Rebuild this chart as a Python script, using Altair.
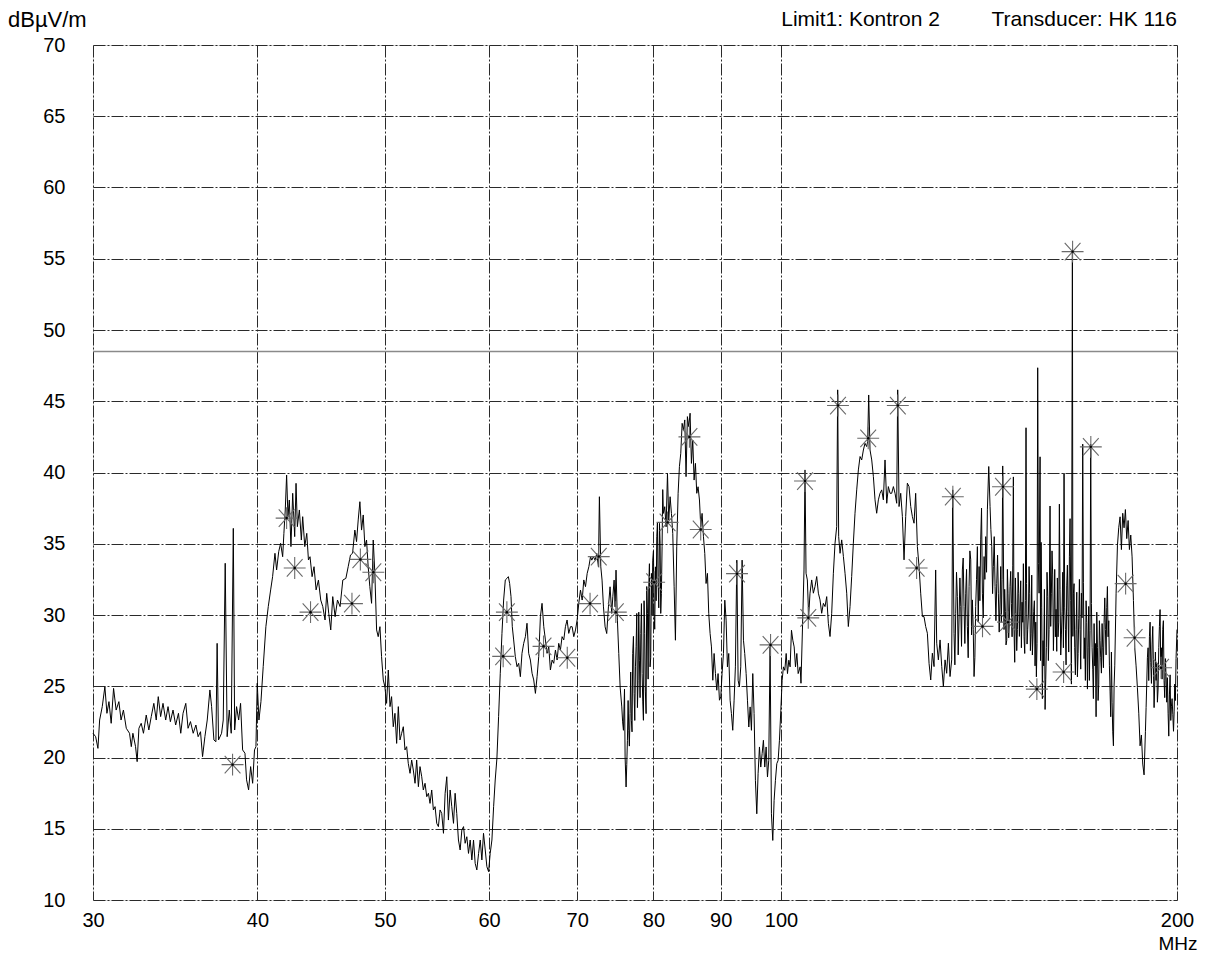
import altair as alt
import pandas as pd

# ---- trace (frequency MHz, level dBuV/m) ----
trace_30_46 = [
(30.00,21.70),(30.14,21.46),(30.26,20.64),(30.35,22.63),(30.49,23.57),(30.63,24.97),(30.74,23.10),(30.85,23.92),(30.97,22.40),(31.10,24.85),
(31.24,23.33),(31.39,23.92),(31.51,22.63),(31.64,23.33),(31.80,22.05),(31.98,21.70),(32.08,20.76),(32.17,21.70),(32.32,20.76),(32.41,19.71),
(32.51,22.05),(32.64,22.40),(32.77,21.70),(32.93,22.98),(33.08,21.93),(33.22,22.87),(33.37,23.80),(33.51,22.63),(33.63,24.27),(33.77,22.87),
(33.91,23.80),(34.07,22.63),(34.21,23.57),(34.35,22.51),(34.51,23.33),(34.67,22.28),(34.84,23.10),(34.98,21.70),(35.12,23.10),(35.29,23.80),
(35.43,22.05),(35.58,22.52),(35.75,21.70),(35.92,22.28),(36.06,21.46),(36.21,21.81),(36.34,20.06),(36.49,21.46),(36.64,22.63),(36.81,24.74),
(36.92,23.57),(37.07,21.23),(37.20,21.11),(37.28,28.01),(37.37,21.23),(37.57,21.70),(37.68,22.63),(37.81,33.63),(37.94,21.46),(38.08,23.33),
(38.21,21.70),(38.35,36.08),(38.44,21.93),(38.57,23.57),(38.71,22.63),(38.84,23.80),(38.98,20.53),(39.14,20.30),(39.25,18.43),(39.39,17.73),
(39.53,19.36),(39.67,18.19),(39.80,20.53),(39.90,20.76),(39.99,25.21),(40.11,22.63),(40.25,23.92),(40.41,26.38),(40.60,29.18),(40.77,30.59),
(40.94,31.76),(41.08,32.69),(41.25,34.33),(41.37,33.16),(41.52,34.44),(41.66,35.03),(41.81,34.09),(41.90,35.73),(42.00,37.37),(42.10,39.82),
(42.20,36.90),(42.30,38.07),(42.42,34.80),(42.55,38.54),(42.70,35.50),(42.80,39.24),(42.90,36.20),(43.05,37.37),(43.20,35.26),(43.30,36.90),
(43.46,34.80),(43.61,35.73),(43.74,33.86),(43.86,34.09),(44.02,32.69),(44.17,33.39),(44.33,31.76),(44.51,32.45),(44.69,31.05),(44.85,30.59),
(45.03,29.65),(45.16,31.52),(45.32,30.12),(45.48,28.95),(45.64,31.29),(45.83,29.88),(46.02,31.05),(46.23,30.59),(46.45,32.45),
]

trace_46_72 = [
(46.70,32.57),(46.89,33.39),(47.08,34.21),(47.25,34.33),(47.44,35.96),(47.58,35.15),(47.72,36.67),(47.86,37.95),(48.00,35.96),(48.14,37.02),
(48.28,34.80),(48.42,35.26),(48.56,33.39),(48.70,31.99),(48.85,30.82),(48.99,35.26),(49.13,32.92),(49.28,28.95),(49.42,28.48),(49.57,29.18),
(49.71,27.08),(49.86,25.44),(50.00,24.97),(50.15,23.80),(50.30,26.14),(50.45,23.57),(50.59,24.27),(50.74,22.16),(50.89,23.10),(51.04,20.99),
(51.19,23.57),(51.34,21.23),(51.49,21.70),(51.64,22.16),(51.79,20.53),(51.94,20.76),(52.09,19.59),(52.25,18.89),(52.40,19.82),(52.55,19.12),
(52.71,18.19),(52.86,19.82),(53.02,17.95),(53.17,19.36),(53.33,18.65),(53.48,17.72),(53.64,18.19),(53.80,17.25),(53.96,17.49),(54.11,16.78),
(54.27,17.72),(54.43,16.32),(54.59,16.55),(54.75,15.38),(54.91,15.15),(55.07,16.32),(55.23,16.08),(55.40,14.68),(55.56,17.49),(55.72,18.65),
(55.88,15.61),(56.05,17.72),(56.21,16.55),(56.38,15.38),(56.54,17.49),(56.70,16.08),(56.87,14.21),(57.04,13.51),(57.21,14.91),(57.38,15.15),
(57.54,13.98),(57.71,14.44),(57.88,13.27),(58.05,14.21),(58.22,12.81),(58.39,14.21),(58.56,12.57),(58.73,12.11),(58.91,13.27),(59.08,14.21),
(59.25,12.81),(59.42,14.68),(59.60,13.51),(59.77,12.34),(59.95,11.99),(60.12,13.27),(60.30,14.21),(60.48,16.55),(60.65,18.42),(60.83,19.95),
(61.01,22.87),(61.19,25.91),(61.37,28.71),(61.55,31.05),(61.73,32.46),(61.91,32.57),(62.06,32.69),(62.20,32.22),(62.35,31.29),(62.49,29.18),
(62.64,28.25),(62.82,27.08),(63.01,26.37),(63.19,26.61),(63.38,25.67),(63.56,27.31),(63.75,28.01),(63.94,28.48),(64.12,29.42),(64.31,27.31),
(64.50,26.84),(64.69,25.91),(64.88,25.44),(65.07,24.50),(65.26,25.67),(65.45,27.08),(65.64,29.88),(65.83,30.82),(66.03,29.18),(66.22,28.25),
(66.41,27.31),(66.61,27.78),(66.80,26.14),(67.00,26.84),(67.19,26.61),(67.39,27.54),(67.59,26.84),(67.78,28.01),(67.98,27.54),(68.18,28.48),
(68.38,28.25),(68.58,29.18),(68.78,29.65),(68.98,28.71),(69.19,29.18),(69.39,29.18),(69.59,28.48),(69.80,28.95),(70.00,29.65),(70.20,30.82),
(70.41,31.75),(70.62,31.05),(70.82,32.46),(71.03,31.99),(71.24,32.92),(71.45,33.39),(71.66,34.09),
]

trace_72_103 = [
(71.82,33.85),(72.02,34.09),(72.23,33.85),(72.45,34.32),(72.66,33.38),(72.78,38.30),(72.96,33.38),(73.12,32.45),(73.30,30.57),(73.51,29.17),
(73.72,28.70),(73.94,30.57),(74.15,31.98),(74.37,30.11),(74.51,31.28),(74.68,32.45),(74.81,30.57),(74.93,33.15),(75.11,29.64),(75.29,27.30),
(75.47,24.95),(75.69,23.55),(75.91,21.91),(76.13,20.04),(76.26,17.93),(76.44,21.21),(76.62,21.91),(76.79,23.08),(76.97,22.61),(77.15,27.30),
(77.34,24.48),(77.52,26.36),(77.70,30.11),(77.88,25.42),(78.06,26.83),(78.25,28.70),(78.43,25.89),(78.61,22.61),(78.79,28.70),(78.98,23.08),
(79.17,30.11),(79.35,31.98),(79.53,26.36),(79.72,32.92),(79.90,33.85),(80.09,30.11),(80.28,33.38),(80.47,35.49),(80.65,32.45),(80.85,36.43),
(81.03,30.11),(81.22,34.79),(81.41,37.13),(81.60,37.60),(81.79,36.19),(81.99,39.94),(82.17,36.66),(82.37,38.30),(82.56,37.13),(82.75,35.73),
(82.95,31.98),(83.14,28.23),(83.33,34.79),(83.53,38.54),(83.72,40.41),(83.92,41.35),(84.12,43.45),(84.31,42.99),(84.51,43.69),(84.70,39.71),
(84.90,43.92),(85.10,43.22),(85.30,44.16),(85.50,40.64),(85.70,42.28),(85.90,39.47),(86.10,40.64),(86.30,38.54),(86.50,39.00),(86.71,38.07),
(86.91,36.19),(87.11,37.13),(87.32,35.49),(87.52,34.32),(87.72,32.21),(87.93,32.92),(88.13,30.11),(88.34,28.70),(88.55,27.76),(88.76,25.42),
(88.96,27.30),(89.17,25.89),(89.38,24.72),(89.58,25.89),(89.80,24.02),(90.01,24.25),(90.21,25.89),(90.43,27.30),(90.64,31.04),(90.85,29.64),
(91.06,26.36),(91.27,27.30),(91.49,24.02),(91.70,23.08),(91.91,21.91),(92.13,24.02),(92.34,26.36),(92.57,33.85),(92.78,25.42),(92.99,24.95),
(93.21,26.36),(93.43,33.85),(93.65,28.23),(93.86,27.30),(94.09,25.89),(94.31,24.02),(94.53,22.14),(94.75,23.55),(94.97,21.91),(95.19,25.89),
(95.41,23.08),(95.63,18.40),(95.86,16.05),(96.08,18.86),(96.31,20.74),(96.53,19.33),(96.76,20.27),(96.98,21.21),(97.21,19.33),(97.44,20.74),
(97.67,18.63),(97.89,19.80),(98.12,27.76),(98.35,16.05),(98.58,14.18),(98.81,16.99),(99.04,18.40),(99.28,19.57),(99.51,19.80),(99.74,21.21),
(99.98,23.31),(100.21,25.42),(100.44,26.36),(100.68,26.12),(100.92,27.30),(101.15,25.89),(101.39,26.83),(101.62,26.36),(101.86,28.93),(102.10,28.23),
(102.34,27.76),(102.58,26.36),(102.82,27.30),(103.06,25.89),(103.42,26.36),
]

# extra sweep points in the dense, hatched stretch 75-81 MHz
trace_75_81_dense = [
(75.80,22.5),(76.05,24.8),(76.35,19.5),(76.53,24.0),(76.70,20.8),(76.88,26.0),(77.06,21.8),(77.25,28.5),(77.43,22.6),(77.61,27.8),
(77.79,23.5),(77.97,30.2),(78.15,24.2),(78.34,30.8),(78.52,23.9),(78.70,31.0),(78.88,24.6),(79.07,32.0),(79.26,25.5),(79.44,33.6),
(79.62,27.0),(79.81,30.0),(80.00,34.5),(80.18,29.0),(80.38,31.0),(80.56,36.5),(80.75,30.5),(80.94,35.0),(81.12,31.5),(81.31,38.8),
]

trace_103_147 = [
(103.57,25.21),(103.88,29.65),(104.12,33.16),(104.30,40.18),(104.49,32.93),(104.73,32.46),(104.97,29.89),(105.22,31.53),(105.53,32.46),(105.84,31.53),
(106.14,31.99),(106.46,32.70),(106.77,31.53),(107.08,31.06),(107.39,30.12),(107.71,30.82),(108.02,30.59),(108.34,31.29),(108.65,29.42),(108.97,28.49),
(109.29,30.12),(109.61,32.93),(109.93,35.04),(110.25,36.20),(110.44,45.80),(110.63,35.50),(110.90,34.33),(111.22,35.27),(111.55,34.10),(111.87,32.93),
(112.20,31.53),(112.52,29.19),(112.85,30.59),(113.18,32.70),(113.51,35.04),(113.84,37.14),(114.18,38.78),(114.51,40.18),(114.85,41.12),(115.18,40.88),
(115.52,41.58),(115.85,42.05),(116.19,41.82),(116.39,42.17),(116.60,45.44),(116.87,41.58),(117.22,40.88),(117.56,39.71),(117.90,38.08),(118.24,37.14),
(118.59,38.08),(118.93,38.54),(119.29,38.78),(119.63,38.08),(119.98,40.88),(120.34,37.84),(120.68,39.01),(121.04,38.54),(121.39,38.54),(121.75,39.01),
(122.10,38.54),(122.46,37.84),(122.67,45.80),(122.96,37.61),(123.32,38.54),(123.68,36.91),(124.04,33.87),(124.40,36.91),(124.76,39.25),(125.13,39.01),
(125.50,37.61),(125.86,36.91),(126.23,36.44),(126.59,38.54),(126.97,34.80),(127.34,33.40),(127.71,31.53),(128.09,29.89),(128.45,29.89),(128.83,29.19),
(129.21,28.72),(129.59,26.61),(129.97,25.44),(130.34,27.32),(130.73,26.38),(131.10,33.16),(131.34,28.02),(131.72,26.85),(132.11,28.25),(132.50,26.38),
(132.88,24.98),(133.27,26.85),(133.65,25.91),(134.05,28.02),(134.44,25.68),(134.83,26.85),(135.07,38.78),(135.38,28.72),(135.78,30.12),(136.17,31.29),
(136.57,29.65),(136.98,30.59),(137.37,33.16),(137.77,30.59),(138.18,31.53),(138.58,29.19),(138.99,31.99),(139.40,33.87),(139.80,31.06),(140.21,25.68),
(140.61,30.59),(141.03,34.80),(141.45,33.40),(141.85,35.27),(142.27,31.53),(142.69,34.10),(143.10,35.50),(143.52,37.38),(143.86,40.42),(144.19,37.61),
(144.62,34.80),(145.03,33.40),(145.46,31.99),(145.89,32.23),(146.30,31.53),(146.74,31.06),
]

# extra sweep points in the dense stretch 135-147 MHz
trace_135_147_dense = [
(135.58,26.5),(135.97,33.0),(136.37,27.2),(136.78,32.6),(137.17,27.8),(137.57,34.0),(137.97,28.0),(138.38,33.2),(138.78,27.0),(139.19,34.5),
(139.60,28.6),(140.01,29.0),(140.41,27.0),(140.82,32.5),(141.24,29.5),(141.65,31.0),(142.06,37.5),(142.48,29.8),(142.89,32.5),(143.31,33.0),
(144.40,36.0),(144.83,31.5),(145.25,35.5),(145.68,29.6),(146.10,34.2),(146.52,28.8),(146.90,33.4),
]

trace_147_200 = [
(147.07,29.49),(147.42,40.46),(147.76,28.98),(148.11,30.26),(148.46,28.21),(148.80,31.53),(149.15,29.49),(149.50,33.06),(149.86,28.47),(150.20,39.69),
(150.55,26.68),(150.91,30.00),(151.26,28.98),(151.62,31.53),(151.96,30.26),(152.32,27.70),(152.68,29.49),(153.03,28.47),(153.39,31.02),(153.56,43.14),
(153.84,27.96),(154.20,30.00),(154.56,31.53),(154.92,28.72),(155.28,27.19),(155.64,30.26),(156.01,26.43),(156.37,25.66),(156.73,47.35),(157.11,31.53),
(157.38,41.10),(157.66,35.10),(158.02,24.13),(158.39,26.43),(158.77,23.37),(159.13,27.70),(159.50,31.28),(159.88,28.98),(160.15,37.65),(160.53,31.53),
(160.90,32.81),(161.29,30.00),(161.66,28.47),(162.04,27.45),(162.41,28.47),(162.79,37.78),(163.18,27.19),(163.56,30.26),(163.94,27.70),(164.13,39.95),
(164.52,28.98),(164.90,32.04),(165.28,30.26),(165.67,34.08),(165.86,36.76),(166.25,25.15),(166.54,55.56),(166.84,31.53),(167.22,27.70),(167.62,28.98),
(168.01,25.66),(168.40,29.74),(168.79,28.98),(169.19,31.53),(169.58,41.99),(169.98,26.94),(170.37,25.41),(170.78,29.49),(171.17,27.70),(171.57,25.41),
(171.97,41.99),(172.38,27.70),(172.78,24.13),(173.19,26.43),(173.59,22.86),(174.00,27.70),(174.40,25.15),(174.80,28.21),(175.22,25.92),(175.63,27.70),
(176.04,29.49),(176.45,28.98),(176.86,30.51),(177.28,28.47),(177.69,26.43),(178.10,22.86),(178.52,23.88),(178.94,20.82),(179.36,26.43),(179.78,31.53),
(180.20,34.85),(180.61,36.12),(181.04,36.89),(181.46,34.59),(181.88,37.14),(182.30,36.12),(182.73,37.40),(183.16,35.36),(183.60,36.63),(184.02,34.59),
(184.45,35.61),(184.88,34.08),(185.32,31.02),(185.75,27.70),(186.18,26.43),(186.61,24.90),(187.06,23.11),(187.49,20.82),(187.92,21.58),(188.36,19.54),
(188.80,18.78),(189.25,21.84),(189.68,25.15),(190.13,27.70),(190.58,28.47),(191.02,26.68),(191.47,27.96),(191.91,26.43),(192.36,25.15),(192.81,25.41),
(193.26,23.88),(193.72,27.70),(194.16,30.38),(194.61,27.70),(195.07,28.98),(195.52,25.41),(195.98,26.94),(196.44,23.88),(196.91,23.11),(197.37,24.39),
(197.83,22.60),(198.29,24.13),(198.78,21.84),(199.21,25.15),(199.67,26.94),(200.00,28.98),
]

# extra sweep points in the dense stretch 147-179 MHz
trace_147_179_dense = [
(147.25,32.5),(147.93,31.8),(148.28,27.9),(148.63,33.2),(148.97,28.4),(149.32,32.0),(149.68,30.8),(150.03,33.5),(150.37,29.0),(150.73,32.6),
(151.08,27.5),(151.44,33.0),(151.79,28.5),(152.14,32.4),(152.50,30.9),(152.85,33.6),(153.21,27.3),(153.70,32.2),(154.02,29.0),(154.38,33.4),
(154.74,27.5),(155.10,32.8),(155.46,28.6),(155.82,31.0),(156.19,29.5),(156.55,28.0),(156.92,33.6),(157.52,26.8),(157.84,30.5),(158.20,28.2),
(158.58,31.8),(158.95,25.5),(159.31,33.0),(159.69,26.8),(160.34,29.2),(160.71,34.5),(161.10,27.5),(161.47,33.2),(161.85,30.4),(162.22,32.6),
(162.60,29.5),(162.98,31.8),(163.37,28.6),(163.75,33.0),(164.32,30.5),(164.71,26.5),(165.09,33.5),(165.47,27.4),(166.05,31.0),(166.69,28.5),
(167.03,32.2),(167.42,25.8),(167.82,31.6),(168.21,27.3),(168.60,32.5),(168.99,26.2),(169.38,29.8),(169.78,32.3),(170.18,28.4),(170.58,31.0),
(170.98,24.8),(171.37,30.6),(171.77,28.9),(172.18,30.8),(172.58,26.2),(172.99,29.4),(173.39,28.0),(173.80,30.2),(174.20,24.0),(174.60,29.6),
(175.01,27.0),(175.43,29.4),(175.84,26.3),(176.25,31.2),(176.66,27.2),(177.07,32.0),(177.49,29.6),(177.90,24.6),(178.31,27.4),(178.73,21.8),
(179.15,25.0),
]

# extra sweep points 189-200 MHz
trace_189_200_dense = [
(189.47,23.5),(189.90,27.0),(190.35,25.4),(190.80,29.5),(191.25,25.2),(191.69,29.2),(192.14,23.5),(192.58,27.4),(193.04,26.6),(193.49,24.8),
(193.94,29.2),(194.38,26.5),(194.84,25.5),(195.29,29.6),(195.75,24.2),(196.21,25.7),(196.67,25.6),(197.14,21.5),(197.60,25.8),(198.06,23.6),
(198.54,23.0),(199.00,23.2),(199.44,24.0),
]

# ---- peak markers (asterisks) ----
peak_freq = [38.3, 42.1, 42.7, 43.9, 47.2, 47.9, 49.0, 61.5, 61.9, 66.0, 68.8, 71.6, 72.7, 74.9,
             80.1, 82.0, 85.2, 86.9, 92.6, 98.2, 104.3, 104.9, 110.5, 116.5, 122.7, 126.8, 135.1,
             142.3, 147.5, 148.8, 156.5, 164.0, 166.6, 172.0, 182.8, 185.7, 194.5]
peak_level = [19.5, 36.8, 33.3, 30.2, 30.8, 33.9, 33.0, 27.1, 30.2, 27.8, 27.0, 30.8, 34.1, 30.2,
              32.3, 36.5, 42.5, 36.0, 32.9, 27.9, 39.4, 29.8, 44.7, 42.4, 44.7, 33.3, 38.3,
              29.2, 39.0, 29.5, 24.8, 26.0, 55.5, 41.8, 32.2, 28.4, 26.3]

limit_level = [48.5]
y_ticks = [10, 15, 20, 25, 30, 35, 40, 45, 50, 55, 60, 65, 70]
x_ticks = [30, 40, 50, 60, 70, 80, 90, 100, 200]

FONT = "Liberation Sans"

trace = pd.DataFrame(trace_30_46 + trace_46_72 + trace_72_103 + trace_75_81_dense
                     + trace_103_147 + trace_135_147_dense + trace_147_200
                     + trace_147_179_dense + trace_189_200_dense,
                     columns=["freq", "level"]).sort_values("freq").reset_index(drop=True)
trace["order"] = range(len(trace))
peaks = pd.DataFrame({"freq": peak_freq, "level": peak_level})
limit = pd.DataFrame({"level": limit_level})

x_scale = alt.Scale(type="log", domain=[30, 200], nice=False)
y_scale = alt.Scale(domain=[10, 70], nice=False, zero=False)

grid_kw = dict(grid=True, gridColor="#2a2a2a", gridDash=[12, 2, 2, 2], gridWidth=1,
               ticks=False, domain=False, title=None, labelFont=FONT, labelFontSize=20,
               labelColor="black")
x_axis = alt.Axis(values=x_ticks, format="d", labelFlush=False, labelOverlap=False,
                  labelPadding=10, **grid_kw)
y_axis = alt.Axis(values=y_ticks, labelPadding=28, labelOverlap=False, **grid_kw)

X = alt.X("freq:Q", scale=x_scale, axis=x_axis)
Y = alt.Y("level:Q", scale=y_scale, axis=y_axis)

line = alt.Chart(trace).mark_line(color="black", strokeWidth=1).encode(x=X, y=Y, order="order:Q")

limit_rule = alt.Chart(limit).mark_rule(color="#8a8a8a", strokeWidth=1.5).encode(y=Y)

star_path = "M-1,0L1,0M0,-1L0,1M-0.72,-0.8L0.72,0.8M-0.72,0.8L0.72,-0.8"
stars = alt.Chart(peaks).mark_point(shape=star_path, filled=False, stroke="#6a6a6a",
                                    strokeWidth=1.1, size=480, opacity=1).encode(x=X, y=Y)
dots = alt.Chart(peaks).mark_point(shape="circle", filled=True, color="black",
                                   size=6, opacity=1).encode(x=X, y=Y)

one = alt.Data(values=[{"a": 1}])
t_unit = alt.Chart(one).mark_text(text="dBµV/m", x=-85, y=-18, align="left",
                                  baseline="alphabetic", font=FONT, fontSize=22, color="black")
t_limit = alt.Chart(one).mark_text(text="Limit1: Kontron 2", x=847, y=-19, align="right",
                                   baseline="alphabetic", font=FONT, fontSize=21, color="black")
t_trans = alt.Chart(one).mark_text(text="Transducer: HK 116", x=1084, y=-19, align="right",
                                   baseline="alphabetic", font=FONT, fontSize=21, color="black")
t_mhz = alt.Chart(one).mark_text(text="MHz", x=1085, y=909, align="center",
                                 baseline="bottom", font=FONT, fontSize=19, color="black")

chart = alt.layer(limit_rule, line, stars, dots, t_unit, t_limit, t_trans, t_mhz).properties(
    width=1084, height=855,
    autosize=alt.AutoSizeParams(type="none"),
    padding={"left": 85, "top": 37, "right": 24, "bottom": 55},
).configure_view(stroke="#7a7a7a", strokeWidth=1.5).configure(background="white")

chart.save("out.html", embed_options={"renderer": "svg", "actions": False})
